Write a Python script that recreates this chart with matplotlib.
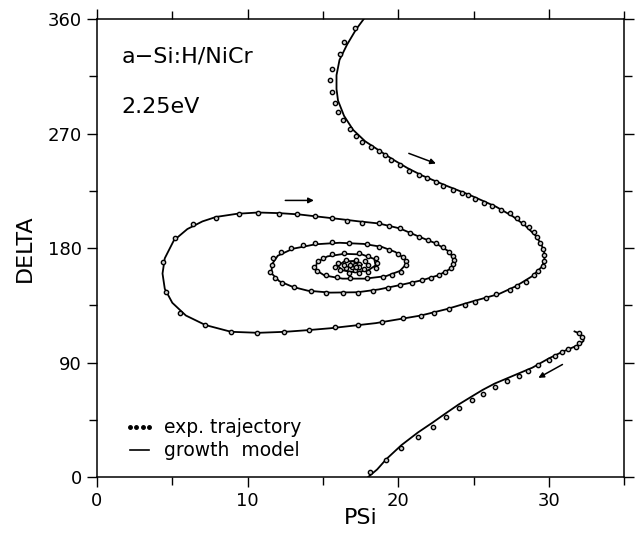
import numpy as np
import matplotlib
matplotlib.use('Agg')
import matplotlib.pyplot as plt
from matplotlib.lines import Line2D

# growth model, upper part: S curve from the top, then the spiral
model_psi = [17.7, 17.2, 16.6, 16.1, 15.9, 15.9, 16.0, 16.4, 17.0, 17.8, 18.7, 19.6,
             20.6, 21.6, 23.2, 24.7, 26.5, 27.6, 28.4, 29.1, 29.5, 29.7, 29.7, 29.5,
             28.9, 27.8, 26.7, 24.9, 23.2, 21.5, 20.0, 18.5, 17.0, 15.5, 14.0, 12.5,
             10.7, 8.9, 7.2, 5.9, 5.0, 4.5, 4.35, 4.5, 5.1, 6.0, 7.0, 7.9, 9.3, 10.7,
             12.1, 13.4, 14.5, 16.0, 17.4, 18.7, 20.1, 21.4, 22.5, 23.4, 23.7, 23.5,
             22.7, 21.6, 20.1, 18.7, 17.3, 15.5, 14.0, 13.0, 12.1, 11.6, 11.6, 12.0,
             13.0, 14.5, 16.1, 17.7, 18.9, 19.8, 20.4, 20.5, 20.1, 19.2, 17.8, 16.3,
             15.1, 14.5, 14.6, 15.3, 16.4, 17.6, 18.4, 18.5, 18.0, 17.1, 16.3, 16.0,
             16.4, 17.2, 17.6, 17.3, 16.8]
model_delta = [360, 352, 340, 328, 316, 305, 296, 284, 273, 264, 257, 250,
               243, 237, 229, 222, 212.5, 205, 198, 190, 183, 176, 170, 165,
               158, 150, 144, 138, 132, 127, 124, 121, 119, 117, 115.5, 114.2,
               113.4, 114.2, 119.5, 127, 137, 148, 160, 172, 186, 195, 201, 204.5, 207, 208,
               207.5, 206.5, 205, 203, 201, 199.4, 195.5, 188.9, 183.7, 177.1, 170.6, 164,
               158.8, 154.8, 150.9, 147.5, 145.3, 145, 146.5, 149.5, 154, 160, 167, 174,
               179.5, 183, 184.2, 183.3, 181, 177, 172, 167, 162, 158, 156, 156,
               158.5, 163, 169, 173.5, 175.5, 175, 171.5, 166.5, 162.5, 161, 162.5, 166,
               169.5, 170, 167, 164.5, 165.5]

# growth model, lower branch (below the 360 -> 0 wrap)
model2_psi = [18.0, 18.6, 19.2, 20.2, 21.3, 22.3, 23.2, 24.0, 24.9, 25.6, 26.4, 27.2,
              28.0, 28.9, 30.0, 30.9, 31.5, 32.0, 32.3, 32.3, 32.0, 31.7]
model2_delta = [0, 6, 14, 25, 35, 43, 50.5, 57, 63.5, 68.5, 73.5, 77.5,
                81.5, 86, 93.3, 98.5, 101.5, 104, 107, 110, 113, 114.5]

# experimental trajectory points
exp_psi = [17.1, 16.4, 16.1, 15.6, 15.5, 15.6, 15.8, 16.0, 16.3, 16.8, 17.2, 17.6,
           18.2, 18.7, 19.1, 19.5, 20.1, 20.7, 21.4, 21.9, 22.5, 23.0, 23.6, 24.2,
           24.6, 25.1, 25.7, 26.2, 26.8, 27.4, 27.9, 28.3, 28.7, 29.0, 29.2, 29.4,
           29.6, 29.7, 29.7, 29.6, 29.3, 29.0, 28.5, 27.9, 27.4, 26.5, 25.8, 25.1,
           24.4, 23.4, 22.4, 21.5, 20.3, 18.9, 17.3, 15.8, 14.1, 12.4, 10.6, 8.9,
           7.2, 5.5, 4.6, 4.4, 5.2, 6.4, 7.9, 9.4, 10.7, 12.1, 13.3, 14.5,
           15.6, 16.6, 17.6, 18.7, 19.4, 20.1, 20.8, 21.4, 22.0, 22.5, 23.0, 23.4,
           23.6, 23.7, 23.6, 23.5, 23.1, 22.7, 22.2, 21.6, 20.9, 20.1, 19.3, 18.3,
           17.3, 16.3, 15.2, 14.2, 13.1, 12.3, 11.8, 11.5, 11.6, 11.7, 12.2, 12.9,
           13.7, 14.5, 15.6, 16.7, 17.9, 18.7, 19.4, 20.0, 20.3, 20.5, 20.5, 20.2,
           19.6, 19.0, 17.9, 16.8, 15.9, 15.2, 14.6, 14.4, 14.7, 15.0, 15.6, 16.4,
           17.4, 18.0, 18.5, 18.6, 18.5, 18.0, 17.4, 16.7, 16.1, 15.8, 16.0, 16.5,
           17.2, 17.8, 18.0, 17.7, 17.1, 16.5, 16.4, 16.9, 17.4, 17.4, 16.9, 16.8,
           17.1, 17.2]
exp_delta = [352.7, 342.2, 333, 321.2, 312, 302.9, 294.2, 287.1, 280.6, 274, 268, 263.5,
             259.6, 256, 253, 249, 245, 241, 237.4, 234.8, 232.1, 228.7, 225.6, 223.5,
             221.7, 218.5, 215.6, 213, 209.9, 207.3, 203.3, 199.9, 196.8, 192.8, 188.4, 183.7,
             179, 174.5, 170, 166, 162, 159, 153.5, 150, 147, 143.8, 140.5, 137.8,
             135.2, 132, 129, 126.5, 124.7, 122, 119.5, 117.6, 115.5, 114.2, 113, 114.2,
             119.5, 128.7, 145.7, 169.2, 187.6, 198.6, 203.8, 206.5, 207.3, 206.7, 206.7, 205,
             203.3, 201.5, 199.9, 199.4, 197, 195.5, 192, 188.9, 186.3, 183.7, 180.5, 177.1,
             173.8, 170.6, 167.3, 164, 161.3, 158.8, 156.8, 154.8, 152.8, 150.9, 148.3, 146.4,
             144.9, 144.9, 144.9, 146.4, 149.1, 152.2, 156.2, 161.4, 166.6, 171.9, 177.1, 179.8,
             182.4, 184.2, 184.5, 184.2, 183, 181, 178.4, 175.5, 173.2, 170, 166.5, 161.4,
             159, 157.4, 156.2, 156.2, 157, 158.8, 162, 165.3, 170, 172.5, 175.2, 176,
             175.8, 174, 171.9, 168, 164, 161.5, 160.5, 160.8, 162.5, 165, 168, 170.5,
             171, 169.5, 166.5, 163.5, 162.8, 164, 166.5, 168.5, 167.5, 165, 164.8, 166.5,
             166.8, 165.5]

exp2_psi = [18.1, 19.2, 20.2, 21.3, 22.3, 23.2, 24.0, 24.9, 25.6, 26.4, 27.2, 28.0,
            28.6, 29.3, 30.0, 30.4, 30.9, 31.3, 31.8, 32.0, 32.2, 32.0]
exp2_delta = [4.2, 13.4, 22.6, 31.7, 39.5, 47.4, 54, 60.5, 65.2, 71, 75.5, 79.4,
              83.6, 88, 92, 95.1, 98.5, 100.4, 102.4, 105.6, 110.3, 113]

# direction arrows (tail, head) in data units
arrows = [((12.5, 217.5), (14.4, 217.5)),
          ((20.7, 254.5), (22.5, 246.5)),
          ((30.9, 88.5), (29.3, 78.0))]

fig = plt.figure(figsize=(6.36, 5.33), dpi=100)
ax = fig.add_axes([0.1525, 0.105, 0.829, 0.859])

ax.plot(model_psi, model_delta, color='black', lw=1.3)
ax.plot(model2_psi, model2_delta, color='black', lw=1.3)
ax.plot(exp_psi, exp_delta, 'o', ms=3.1, mfc='#cfcfcf', mec='black', mew=1.0)
ax.plot(exp2_psi, exp2_delta, 'o', ms=3.1, mfc='#cfcfcf', mec='black', mew=1.0)

for tail, head in arrows:
    ax.annotate('', xy=head, xytext=tail,
                arrowprops=dict(arrowstyle='-|>', color='black', lw=1.1,
                                mutation_scale=8, shrinkA=0, shrinkB=0))

ax.set_xlim(0, 35)
ax.set_ylim(0, 360)
ax.set_xticks([0, 10, 20, 30])
ax.set_xticks([5, 15, 25, 35], minor=True)
ax.set_yticks([0, 90, 180, 270, 360])
ax.set_yticks([45, 135, 225, 315], minor=True)
ax.tick_params(which='both', direction='out', top=True, right=True,
               labelsize=13, width=1.0)
ax.tick_params(which='major', length=7, pad=4)
ax.tick_params(which='minor', length=6)
for sp in ax.spines.values():
    sp.set_linewidth(1.1)

ax.set_xlabel('PSi', fontsize=16, labelpad=-2)
ax.set_ylabel('DELTA', fontsize=16, labelpad=9)

ax.text(0.047, 0.905, 'a\u2212Si:H/NiCr', transform=ax.transAxes, fontsize=16)
ax.text(0.047, 0.795, '2.25eV', transform=ax.transAxes, fontsize=16)

handles = [Line2D([], [], ls='none', marker='o', ms=2.5, color='black'),
           Line2D([], [], color='black', lw=1.2)]
ax.legend(handles, ['exp. trajectory', 'growth  model'], loc='lower left',
          bbox_to_anchor=(0.02, 0.0), frameon=False, fontsize=13.5,
          numpoints=4, handlelength=1.6, handletextpad=0.5, labelspacing=0.2)

fig.savefig('out.png', dpi=100)
